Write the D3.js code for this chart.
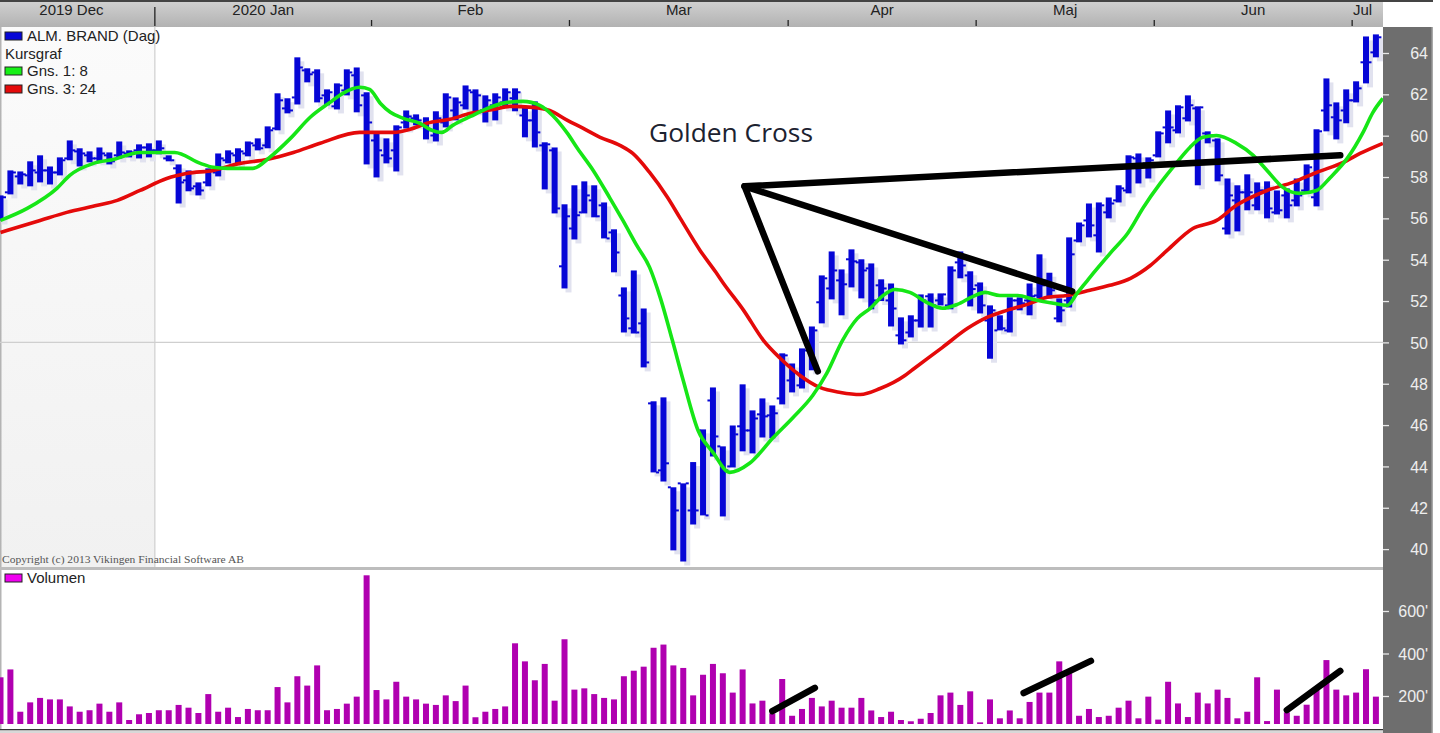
<!DOCTYPE html>
<html><head><meta charset="utf-8">
<script src="https://d3js.org/d3.v7.min.js"></script>
<style>
html,body{margin:0;padding:0;background:#fff;overflow:hidden}
svg{display:block}
</style></head><body><svg id="c" width="1440" height="733" font-family="'Liberation Sans',Arial,sans-serif"></svg>
<script>
const highs=[57.11,58.32,58.27,58.76,59.05,58.51,58.95,59.77,59.39,59.24,
59.43,59.19,59.72,59.29,59.58,59.63,59.77,59.05,58.61,58.32,
57.74,58.42,59.14,59.29,59.39,59.72,59.87,60.45,62.05,61.81,
63.79,63.26,63.21,62.24,62.53,63.21,63.30,62.10,60.11,59.87,
60.50,61.22,61.03,60.89,61.18,62.05,61.85,62.43,62.24,61.95,
62.05,62.29,62.29,61.37,61.66,59.68,59.43,56.68,57.60,57.79,
57.60,56.77,55.47,52.66,53.48,51.64,47.15,47.34,42.99,43.18,
44.21,45.79,47.82,44.97,45.98,47.97,46.71,47.29,46.95,49.47,
48.98,49.71,50.77,53.24,54.40,53.53,54.50,54.02,53.82,53.05,
52.85,51.21,51.31,52.32,52.37,52.37,53.68,54.40,53.44,52.90,
51.79,51.31,52.18,52.18,52.85,54.26,53.37,52.13,55.08,55.80,
56.72,56.77,57.01,57.60,59.05,59.14,58.95,60.21,61.22,61.47,
61.95,61.42,60.21,59.87,57.93,57.60,58.13,57.74,57.79,57.35,
57.45,57.93,58.61,60.31,62.77,61.61,62.24,62.63,64.80,64.90];
const lows=[55.90,57.16,57.64,57.55,57.74,57.64,58.08,58.81,58.51,58.71,
58.76,58.61,58.90,58.95,58.90,58.95,59.10,58.76,56.72,57.31,
57.11,57.55,58.03,58.66,58.66,59.00,59.29,59.39,60.26,61.08,
61.51,62.58,61.61,61.47,61.27,61.95,61.13,58.61,57.98,58.66,
58.27,60.35,60.50,59.82,59.72,60.40,60.74,61.27,61.18,60.64,
60.74,61.37,61.18,59.92,59.43,57.40,56.24,52.61,54.98,56.24,
56.05,55.03,53.39,50.48,50.43,48.79,43.71,43.27,39.94,39.40,
41.19,41.63,44.48,41.58,43.95,44.73,44.63,45.40,45.36,47.00,
47.58,47.77,48.65,50.92,52.08,51.31,52.66,52.13,51.60,52.00,
50.77,49.90,50.24,50.72,50.72,51.79,51.60,53.10,51.74,51.40,
49.21,50.58,50.48,51.55,51.31,52.13,52.13,50.97,51.69,54.84,
55.08,54.35,56.00,56.77,57.21,57.69,57.93,58.95,59.63,60.11,
60.69,57.60,59.63,57.79,55.22,55.37,56.39,56.39,56.00,56.19,
56.00,56.58,57.21,56.58,60.21,59.82,60.60,61.61,62.53,63.79];
const opens=[56.14,57.26,58.03,58.08,58.22,58.32,58.22,58.90,59.24,59.05,
58.90,59.05,59.05,59.14,59.29,59.43,59.29,58.90,58.42,57.84,
57.55,57.74,58.22,58.81,59.05,59.14,59.53,59.53,60.35,61.32,
61.85,63.16,63.06,61.95,61.42,62.19,62.92,61.95,59.77,59.05,
59.29,60.64,60.84,60.50,60.01,60.64,61.22,61.47,62.10,61.22,
61.47,61.61,61.81,60.98,60.74,59.53,59.29,53.68,55.51,56.29,
56.87,56.63,55.32,52.27,50.68,50.92,47.05,43.81,42.99,43.18,
41.87,45.74,47.19,44.97,44.00,45.94,45.74,46.52,46.47,47.29,
48.16,47.92,49.61,51.94,52.61,53.00,54.02,53.87,53.58,52.76,
52.03,50.34,50.48,51.06,52.23,52.03,51.79,53.87,53.24,52.76,
51.06,50.58,50.58,52.03,52.03,52.27,53.00,51.16,52.03,54.93,
55.90,55.18,56.29,56.87,57.35,58.90,58.66,59.05,60.40,60.26,
60.84,61.32,60.11,59.77,55.51,56.87,57.26,56.63,57.35,56.29,
57.11,56.87,57.35,57.02,61.22,60.89,61.22,61.71,63.55,64.03];
const closes=[57.02,58.22,58.13,58.32,58.32,58.22,58.81,59.29,59.14,58.90,
59.14,58.76,59.19,59.19,59.43,59.29,59.39,58.81,57.74,57.45,
57.35,58.32,58.90,59.14,59.24,59.63,59.39,60.26,61.71,61.22,
63.30,62.97,61.81,62.10,62.43,63.06,61.47,60.64,59.29,58.90,
60.40,60.93,60.74,60.26,60.84,61.85,61.61,62.19,61.95,61.71,
61.85,62.10,62.10,60.74,60.16,59.58,56.48,56.10,56.15,57.11,
56.10,55.03,54.35,51.16,50.48,49.03,43.71,44.15,41.87,43.18,
41.87,41.63,45.45,43.81,45.55,45.74,46.32,46.42,46.57,49.37,
48.55,49.61,50.58,53.10,53.48,52.81,53.92,53.48,52.03,52.61,
51.64,50.10,51.06,52.03,51.79,52.32,53.48,53.72,52.58,51.79,
51.55,50.68,52.03,51.89,52.23,52.76,52.52,51.55,54.26,55.66,
55.66,56.63,56.72,57.45,58.95,58.56,58.81,60.11,60.40,61.37,
61.47,61.37,60.01,58.08,57.11,57.26,57.26,57.35,56.48,56.39,
56.63,57.11,58.47,60.21,61.47,60.74,61.71,62.29,63.55,64.76];
const volumes=[288,325,126,170,191,184,184,151,126,133,
164,126,170,87,114,120,133,133,158,145,
120,209,126,145,101,139,133,133,242,170,
293,249,344,133,139,164,197,768,228,184,
267,197,184,164,158,203,176,249,100,126,
139,151,448,363,274,351,178,467,230,236,
209,191,184,293,319,338,427,442,344,332,
203,300,351,307,216,325,165,178,118,280,
107,139,191,151,178,145,145,191,132,101,
126,87,81,93,120,203,216,158,222,76,
184,95,132,95,172,216,216,363,307,107,
139,101,107,145,178,95,197,89,267,165,
101,216,165,230,191,95,126,288,82,230,
123,107,159,230,369,230,203,216,326,197];
const gns1Bars=[0,2.7,5.7,7,9.4,11.4,14.1,17.6,20.2,21.5,22.9,25.5,27.2,29.3,31.3,33.3,34.6,36.3,37.3,38.4,39.4,40.7,42.4,43.4,44.6,45.7,47.5,49.2,51.2,52.8,54.5,55.8,57.3,58.3,59.9,61.6,62.9,64.3,65.6,66.7,67.9,69,70.5,72,73.7,75.7,78.1,80.1,82.1,83.5,85.1,86.6,87.9,89.2,90.4,91.9,93.6,95.2,96.7,98.3,99.5,101,102.8,104.4,106.4,107.8,108.8,110.1,112.4,113.9,115.5,117.2,118.9,120.2,121.5,122.9,124.9,126.6,128,129.6,131.3,133,134.4,136.1,137.7,138.7,139.7];
const gns1Vals=[55.90,56.48,57.45,58.08,58.66,58.85,59.19,59.19,58.66,58.47,58.42,58.42,58.95,59.87,60.89,61.61,62.05,62.34,62.24,61.56,61.13,60.84,60.60,60.31,60.16,60.50,60.93,61.32,61.61,61.66,61.47,60.98,60.11,59.39,58.32,56.97,55.90,54.69,53.63,52.13,50.10,48.16,45.74,44.68,43.71,44.15,45.40,46.37,47.44,48.50,50.10,51.16,51.65,52.27,52.56,52.42,51.94,51.65,51.84,52.23,52.42,52.27,52.27,52.08,51.89,51.79,52.37,53.15,54.45,55.27,56.53,57.69,58.71,59.43,59.92,60.01,59.63,59.05,58.32,57.50,57.21,57.35,57.98,58.90,60.16,61.13,61.80];
const gns3Bars=[0,4,6.7,9.8,11.8,14.1,16.8,18.9,21.5,24.2,26.9,29.6,32.3,36.3,39.7,41.4,43.1,45.4,47.5,49.8,51.5,53.8,55.5,57.3,58.9,60.6,62.6,63.9,65.6,67.4,68.7,70.7,72.3,73,75.1,77.1,78.8,80.8,82.8,84.9,86.9,88.9,91.4,92.2,95.2,97.7,99.7,101.7,103.8,105.8,107.8,110.1,112.1,114.2,116.2,117.9,120.5,122.9,124.9,128,130.6,133,135.7,137.4,139.7];
const gns3Vals=[55.32,55.90,56.29,56.63,56.87,57.35,57.93,58.18,58.32,58.66,58.85,59.19,59.63,60.16,60.16,60.31,60.60,60.79,61.08,61.27,61.42,61.37,61.22,60.74,60.35,59.92,59.53,59.14,58.22,57.02,56.00,54.45,53.39,52.90,51.55,50.10,49.23,48.40,47.82,47.58,47.48,47.77,48.40,48.69,49.76,50.67,51.21,51.55,51.84,52.18,52.27,52.52,52.76,53.10,53.72,54.45,55.51,55.90,56.63,57.35,57.74,58.22,58.71,59.14,59.63];
const priceTicks=[40,42,44,46,48,50,52,54,56,58,60,62,64];
const volumeTicks=[200,400,600];
const monthLabels=["2019 Dec","2020 Jan","Feb","Mar","Apr","Maj","Jun","Jul"];
const monthStartBars=[15.6,37.5,57.5,79.6,98.6,116.6,136.6];
const priceTrendBars=[[75.2,135.4],[75.2,108.3],[75.2,82.6]];
const priceTrendVals=[[57.55,59.05],[57.55,52.47],[57.55,48.6]];
const volTrendBars=[[78,82.3],[103.4,110.2],[130,135.4]];
const volTrendVals=[[129,238],[214,365],[134,318]];
const legendLabels=["ALM. BRAND (Dag)","Kursgraf","Gns. 1: 8","Gns. 3: 24","Volumen"];
const titleNote="Golden Cross";
const copyright="Copyright (c) 2013 Vikingen Financial Software AB";

const svg=d3.select("#c");
const W={plot:1383,panel:1433},P={top:27,bot:567},V={top:570,bot:724};
const x=d3.scaleLinear().domain([0,139]).range([0.5,1375.9]);
const y=d3.scaleLinear().domain([40,64]).range([549.1,53]);
const yv=d3.scaleLinear().domain([0,800]).range([738.5,568.5]);
const defs=svg.append("defs");
const hg=defs.append("linearGradient").attr("id","hdr").attr("x1",0).attr("x2",0).attr("y1",0).attr("y2",1);
hg.append("stop").attr("offset",0).attr("stop-color","#d2d2d2");
hg.append("stop").attr("offset",1).attr("stop-color","#b2b2b2");
const lg=defs.append("linearGradient").attr("id","lft").attr("x1",0).attr("x2",0).attr("y1",0).attr("y2",1);
lg.append("stop").attr("offset",0).attr("stop-color","#fbfbfb");
lg.append("stop").attr("offset",1).attr("stop-color","#f1f1f1");
defs.append("clipPath").attr("id","pc").append("rect").attr("x",0).attr("y",P.top).attr("width",W.plot).attr("height",P.bot-P.top);
defs.append("clipPath").attr("id","vc").append("rect").attr("x",0).attr("y",V.top).attr("width",W.plot).attr("height",V.bot-V.top+8);

// frame
svg.append("rect").attr("x",0).attr("y",0).attr("width",W.plot).attr("height",27).attr("fill","url(#hdr)");
svg.append("rect").attr("x",0).attr("y",0).attr("width",W.panel).attr("height",2).attr("fill","#444");
svg.append("rect").attr("x",W.plot).attr("y",27).attr("width",W.panel-W.plot).attr("height",706).attr("fill","#6e6e6e");
svg.append("rect").attr("x",W.panel-1.5).attr("y",27).attr("width",1.5).attr("height",706).attr("fill","#a8a8a8");
svg.append("rect").attr("x",0).attr("y",P.top).attr("width",x(15.6)).attr("height",P.bot-P.top).attr("fill","url(#lft)");
svg.append("rect").attr("x",0).attr("y",P.top).attr("width",1.5).attr("height",703).attr("fill","#b4b4b4");
svg.append("rect").attr("x",0).attr("y",567).attr("width",W.plot).attr("height",3).attr("fill","#bdbdbd");
svg.append("rect").attr("x",0).attr("y",729).attr("width",W.plot).attr("height",1.5).attr("fill","#333");
svg.append("rect").attr("x",0).attr("y",730.5).attr("width",W.plot).attr("height",2.5).attr("fill","#d8d8d8");

// grid
svg.append("line").attr("x1",0).attr("x2",W.plot).attr("y1",y(50)).attr("y2",y(50)).attr("stroke","#cfcfcf").attr("stroke-width",1.2);
svg.append("line").attr("x1",x(15.6)).attr("x2",x(15.6)).attr("y1",P.top).attr("y2",P.bot).attr("stroke","#cfcfcf").attr("stroke-width",1.2);

// month header
const bounds=[0,...monthStartBars.map(b=>x(b)),W.plot];
svg.append("g").selectAll("line").data(monthStartBars).join("line")
 .attr("x1",d=>x(d)).attr("x2",d=>x(d)).attr("y1",(d,i)=>i==0?7:20).attr("y2",26)
 .attr("stroke","#222").attr("stroke-width",1.3);
svg.append("g").selectAll("text").data(monthLabels).join("text")
 .attr("x",(d,i)=>(bounds[i]+bounds[i+1])/2+(i==0?-6:i==7?-5:0)).attr("y",15)
 .attr("text-anchor","middle").attr("font-size",15).attr("fill","#222").text(d=>d);

// price bars
const pg=svg.append("g").attr("clip-path","url(#pc)");
const idx=d3.range(highs.length);
pg.append("g").selectAll("rect").data(idx).join("rect")
 .attr("x",i=>x(i)-3+4).attr("width",6).attr("y",i=>y(highs[i])+4).attr("height",i=>y(lows[i])-y(highs[i])).attr("fill","#e1e2ef");
const bc="#0606d6";
pg.append("g").selectAll("rect").data(idx).join("rect")
 .attr("x",i=>x(i)-3).attr("width",6).attr("y",i=>y(highs[i])).attr("height",i=>y(lows[i])-y(highs[i])).attr("fill",bc);
pg.append("g").selectAll("rect").data(idx).join("rect")
 .attr("x",i=>x(i)-5.5).attr("width",3).attr("y",i=>y(opens[i])-1).attr("height",2).attr("fill",bc);
pg.append("g").selectAll("rect").data(idx).join("rect")
 .attr("x",i=>x(i)+2.5).attr("width",3).attr("y",i=>y(closes[i])-1).attr("height",2).attr("fill",bc);

// moving averages
const ln=d3.line().x(d=>x(d[0])).y(d=>y(d[1])).curve(d3.curveMonotoneX);
pg.append("path").attr("d",ln(d3.zip(gns3Bars,gns3Vals))).attr("fill","none").attr("stroke","#e40a0a").attr("stroke-width",3.6).attr("stroke-linejoin","round");
pg.append("path").attr("d",ln(d3.zip(gns1Bars,gns1Vals))).attr("fill","none").attr("stroke","#16e616").attr("stroke-width",3.6).attr("stroke-linejoin","round");

// trend annotations
pg.append("g").selectAll("line").data(priceTrendBars).join("line")
 .attr("x1",d=>x(d[0])).attr("x2",d=>x(d[1]))
 .attr("y1",(d,i)=>y(priceTrendVals[i][0])).attr("y2",(d,i)=>y(priceTrendVals[i][1]))
 .attr("stroke","#000").attr("stroke-width",6.5).attr("stroke-linecap","round");

// volume
const vg=svg.append("g").attr("clip-path","url(#vc)");
vg.append("g").selectAll("rect").data(volumes).join("rect")
 .attr("x",(d,i)=>x(i)-3).attr("width",6).attr("y",d=>yv(d)).attr("height",d=>Math.max(V.bot-yv(d),1))
 .attr("fill","#b000b0");
vg.append("g").selectAll("line").data(volTrendBars).join("line")
 .attr("x1",d=>x(d[0])).attr("x2",d=>x(d[1]))
 .attr("y1",(d,i)=>yv(volTrendVals[i][0])).attr("y2",(d,i)=>yv(volTrendVals[i][1]))
 .attr("stroke","#000").attr("stroke-width",6.5).attr("stroke-linecap","round");

// axes
function axisStyle(g){
 g.select(".domain").remove();
 g.selectAll(".tick line").attr("stroke","#e8e8e8").attr("stroke-width",1.3);
 g.selectAll(".tick text").attr("fill","#eeeeee").attr("font-size",16).attr("font-family","'Liberation Sans',Arial,sans-serif")
  .attr("text-anchor","end").attr("x",1428-W.plot).attr("dy","0.35em");
}
svg.append("g").attr("transform",`translate(${W.plot},0)`).call(d3.axisRight(y).tickValues(priceTicks).tickSize(6)).call(axisStyle);
svg.append("g").attr("transform",`translate(${W.plot},0)`).call(d3.axisRight(yv).tickValues(volumeTicks).tickSize(6).tickFormat(d=>d+"'")).call(axisStyle);

// legend
const legendRows=[[0,36,"#0606d6"],[1,54,null],[2,71,"#16f016"],[3,89,"#e40a0a"],[4,578,"#f000f0"]];
legendRows.forEach(([k,yy,c])=>{
 if(c) svg.append("rect").attr("x",5).attr("y",yy-4).attr("width",17).attr("height",8).attr("fill",c).attr("stroke","#222").attr("stroke-width",1);
 svg.append("text").attr("x",c?27:5).attr("y",yy).attr("dy","0.36em").attr("font-size",15).attr("fill","#222").text(legendLabels[k]);
});
svg.append("text").attr("x",2).attr("y",562.5).attr("font-size",10.5).attr("font-family","'Liberation Serif',serif").attr("fill","#555").attr("textLength",242).attr("lengthAdjust","spacingAndGlyphs").text(copyright);
svg.append("text").attr("x",649).attr("y",142).attr("font-size",25).attr("font-family","'Open Sans',sans-serif").attr("fill","#1c2230").attr("textLength",164).attr("lengthAdjust","spacingAndGlyphs").text(titleNote);
</script></body></html>
